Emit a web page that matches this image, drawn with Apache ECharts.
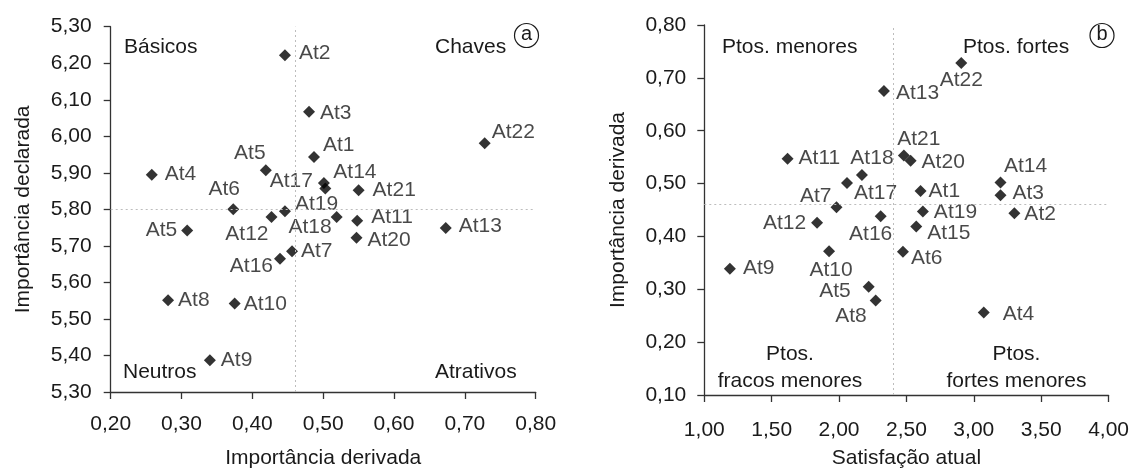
<!DOCTYPE html>
<html>
<head>
<meta charset="utf-8">
<title>Importância x satisfação</title>
<script src="https://cdn.jsdelivr.net/npm/echarts@6.0.0/dist/echarts.min.js"></script>
<style>
  html, body { margin: 0; padding: 0; background: #fff; }
  #chart { width: 1132px; height: 474px; }
</style>
</head>
<body>
<div id="chart"></div>
<script>
// (a) importância derivada x importância declarada
const namesA = ['At1', 'At2', 'At3', 'At4', 'At5', 'At6', 'At7', 'At8', 'At9', 'At10', 'At11',
  'At12', 'At13', 'At14', 'At5', 'At16', 'At17', 'At18', 'At19', 'At20', 'At21', 'At22']
const derivA = [0.487, 0.446, 0.480, 0.258, 0.419, 0.373, 0.456, 0.281, 0.340, 0.375, 0.548,
  0.427, 0.673, 0.503, 0.308, 0.439, 0.501, 0.519, 0.446, 0.547, 0.550, 0.728]
const declA = [5.943, 6.222, 6.067, 5.895, 5.907, 5.800, 5.685, 5.551, 5.387, 5.542, 5.769,
  5.779, 5.749, 5.857, 5.742, 5.665, 5.872, 5.779, 5.795, 5.722, 5.852, 5.981]
const xTicksA = ['0,20', '0,30', '0,40', '0,50', '0,60', '0,70', '0,80']
// o rótulo de cima no original é "5,30" (sic)
const yTicksA = ['5,30', '5,40', '5,50', '5,60', '5,70', '5,80', '5,90', '6,00', '6,10', '6,20', '5,30']

// (b) satisfação atual x importância derivada
const namesB = ['At1', 'At2', 'At3', 'At4', 'At5', 'At6', 'At7', 'At8', 'At9', 'At10', 'At11',
  'At12', 'At13', 'At14', 'At15', 'At16', 'At17', 'At18', 'At19', 'At20', 'At21', 'At22']
const satisB = [2.605, 3.301, 3.198, 3.074, 2.220, 2.474, 1.981, 2.272, 1.190, 1.926, 1.618,
  1.837, 2.333, 3.198, 2.573, 2.309, 2.059, 2.170, 2.622, 2.531, 2.481, 2.907]
const derivB = [0.486, 0.444, 0.478, 0.256, 0.305, 0.371, 0.455, 0.279, 0.339, 0.372, 0.547,
  0.426, 0.675, 0.502, 0.419, 0.438, 0.501, 0.516, 0.447, 0.543, 0.553, 0.728]
const xTicksB = ['1,00', '1,50', '2,00', '2,50', '3,00', '3,50', '4,00']
const yTicksB = ['0,10', '0,20', '0,30', '0,40', '0,50', '0,60', '0,70', '0,80']

// label placement per point: [position, dx, dy, distance]
const labelA = [
  ['right', 0, -12, 3], ['right', 0, -2, 8], ['right', 0, 1, 5], ['right', 0, 0, 7],
  ['top', -16, 0, 1], ['top', -9, 0, 4], ['right', 0, 0, 3], ['right', 0, 0, 4],
  ['right', 0, 0, 5], ['right', 0, 1, 3], ['right', 0, -3, 8], ['left', 3, 17, 0],
  ['right', 0, -2, 7], ['right', 0, -16, 2], ['left', 0, 0, 4], ['left', 0, 8, 1],
  ['left', 0, -2, 5], ['left', 1, 10, 0], ['right', 0, -7, 4], ['right', 0, 2, 5],
  ['right', 0, 0, 8], ['right', 0, -11, 1]
]
const labelB = [
  ['right', 0, 0, 2], ['right', 0, 1, 4], ['right', 0, -2, 6], ['right', 0, 2, 13],
  ['left', 0, 5, 12], ['right', 0, 6, 2], ['left', 1, -11, 0], ['left', 0, 16, 3],
  ['right', 0, 0, 7], ['bottom', 2, 0, 2], ['right', 0, -1, 5], ['left', 0, 1, 5],
  ['right', 0, 2, 6], ['top', 25, 0, 0], ['right', 0, 7, 5], ['bottom', -10, 0, 1],
  ['right', 0, 10, 1], ['top', 10, 0, 0], ['right', 0, 1, 5], ['right', 0, 1, 5],
  ['top', 15, 0, 0], ['bottom', 0, 0, 1]
]

const FONT = "'Liberation Sans', Arial, sans-serif"
const SIZE = 21
const TEXT = '#1a1a1a'
const AXIS = '#333'

function points(names, xs, ys, lbl) {
  return names.map((n, i) => ({
    name: n,
    value: [xs[i], ys[i]],
    label: {
      position: lbl[i][0],
      offset: [lbl[i][1], lbl[i][2]],
      distance: lbl[i][3]
    }
  }))
}

function tickFmt(ticks, min, step) {
  return v => ticks[Math.round((v - min) / step)]
}

function axis(extra) {
  return Object.assign({
    type: 'value',
    nameLocation: 'middle',
    nameTextStyle: { color: TEXT, fontSize: SIZE, fontFamily: FONT },
    axisLine: { show: true, lineStyle: { color: AXIS, width: 1.3 } },
    axisTick: { show: true, length: 7, lineStyle: { color: AXIS, width: 1.3 } },
    splitLine: { show: false }
  }, extra)
}

function tickLabel(ticks, min, step, margin) {
  return { color: TEXT, fontSize: SIZE, fontFamily: FONT, margin: margin, formatter: tickFmt(ticks, min, step) }
}

function quadText(x, y, text, align) {
  return {
    type: 'text', x: x, y: y,
    style: { text: text, fill: TEXT, font: SIZE + 'px ' + FONT, align: align || 'left', verticalAlign: 'middle', lineHeight: 27 }
  }
}

function circled(x, y, ch) {
  return {
    type: 'group', x: x, y: y,
    children: [
      { type: 'circle', shape: { cx: 0, cy: 0, r: 12 }, style: { fill: 'none', stroke: TEXT, lineWidth: 1.2 } },
      { type: 'text', x: 0, y: -1, style: { text: ch, fill: TEXT, font: '20px ' + FONT, align: 'center', verticalAlign: 'middle' } }
    ]
  }
}

function refLines(xv, yv) {
  return {
    silent: true,
    symbol: 'none',
    animation: false,
    label: { show: false },
    lineStyle: { color: '#bdbdbd', type: [2, 3], width: 1 },
    data: [{ xAxis: xv }, { yAxis: yv }]
  }
}

const chart = echarts.init(document.getElementById('chart'))

chart.setOption({
  animation: false,
  textStyle: { fontFamily: FONT },
  grid: [
    { left: 110.7, top: 26.7, width: 425, height: 366 },
    { left: 704.3, top: 25, width: 405, height: 373.3 }
  ],
  xAxis: [
    axis({
      gridIndex: 0, min: 0.2, max: 0.8, interval: 0.1,
      name: 'Importância derivada', nameGap: 56,
      axisLabel: tickLabel(xTicksA, 0.2, 0.1, 22)
    }),
    axis({
      gridIndex: 1, min: 1, max: 4, interval: 0.5,
      name: 'Satisfação atual', nameGap: 53,
      axisLabel: tickLabel(xTicksB, 1, 0.5, 25)
    })
  ],
  yAxis: [
    axis({
      gridIndex: 0, min: 5.3, max: 6.3, interval: 0.1,
      name: 'Importância declarada', nameGap: 77,
      axisLabel: tickLabel(yTicksA, 5.3, 0.1, 19)
    }),
    axis({
      gridIndex: 1, min: 0.1, max: 0.8, interval: 0.1,
      name: 'Importância derivada', nameGap: 76,
      axisLabel: tickLabel(yTicksB, 0.1, 0.1, 18)
    })
  ],
  series: [
    {
      type: 'scatter',
      xAxisIndex: 0,
      yAxisIndex: 0,
      symbol: 'diamond',
      symbolSize: 12,
      itemStyle: { color: '#000' },
      label: { show: true, formatter: '{b}', color: TEXT, fontSize: SIZE, fontFamily: FONT },
      data: points(namesA, derivA, declA, labelA),
      markLine: refLines(0.46, 5.8)
    },
    {
      type: 'scatter',
      xAxisIndex: 1,
      yAxisIndex: 1,
      symbol: 'diamond',
      symbolSize: 12,
      itemStyle: { color: '#000' },
      label: { show: true, formatter: '{b}', color: TEXT, fontSize: SIZE, fontFamily: FONT },
      data: points(namesB, satisB, derivB, labelB),
      markLine: refLines(2.4, 0.46)
    }
  ],
  graphic: [
    quadText(124, 47, 'Básicos'),
    quadText(435, 47, 'Chaves'),
    quadText(123, 372, 'Neutros'),
    quadText(435, 372, 'Atrativos'),
    circled(526.5, 35.5, 'a'),
    quadText(722, 47, 'Ptos. menores'),
    quadText(963, 47, 'Ptos. fortes'),
    quadText(790, 368, 'Ptos.\nfracos menores', 'center'),
    quadText(1016.5, 368, 'Ptos.\nfortes menores', 'center'),
    circled(1102, 35.5, 'b')
  ]
})
</script>
</body>
</html>
